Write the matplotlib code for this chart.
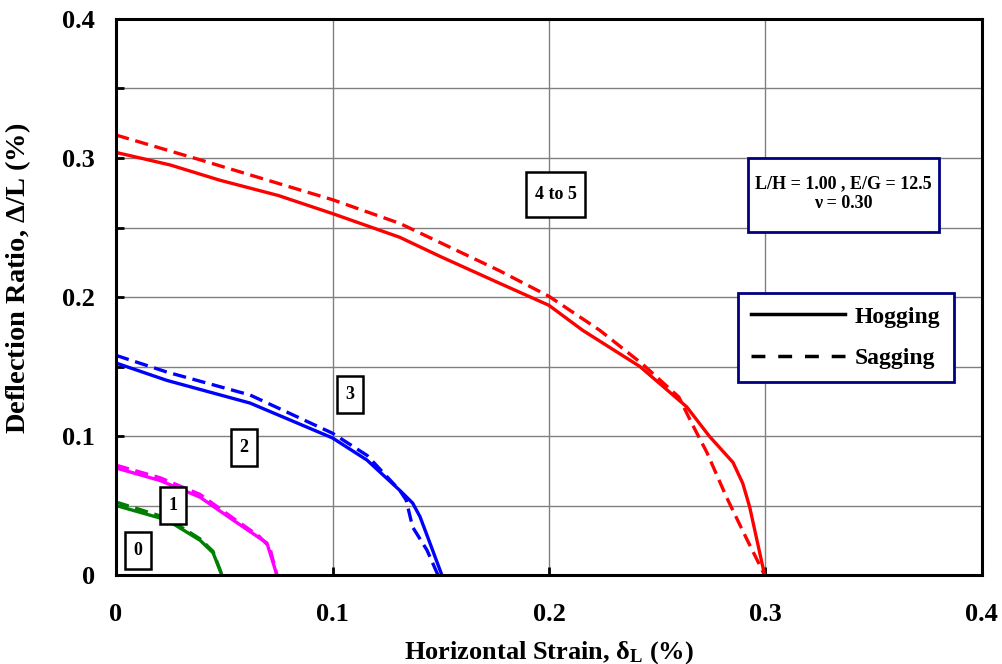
import numpy as np
import matplotlib
matplotlib.use("Agg")
import matplotlib.pyplot as plt
from matplotlib.lines import Line2D
from matplotlib.patches import Rectangle
from matplotlib.ticker import MultipleLocator, FuncFormatter

plt.rcParams['font.family'] = ['Liberation Serif', 'DejaVu Serif']
plt.rcParams['font.weight'] = 'bold'
plt.rcParams['mathtext.fontset'] = 'custom'
plt.rcParams['mathtext.rm'] = 'Liberation Serif:bold'
plt.rcParams['mathtext.it'] = 'Liberation Serif:bold:italic'
plt.rcParams['mathtext.bf'] = 'Liberation Serif:bold'

# curves (x = horizontal strain %, y = deflection ratio %)
red_hog_x = [0, 0.025, 0.048, 0.075, 0.1, 0.131, 0.15, 0.177, 0.2, 0.2156, 0.242, 0.2636, 0.274, 0.285, 0.2895, 0.2927, 0.2996]
red_hog_y = [0.304, 0.295, 0.284, 0.273, 0.260, 0.243, 0.229, 0.210, 0.194, 0.176, 0.150, 0.121, 0.100, 0.081, 0.066, 0.049, 0.0]
red_sag_x = [0, 0.039, 0.085, 0.1, 0.131, 0.177, 0.2, 0.2235, 0.243, 0.26, 0.266, 0.273, 0.282, 0.291, 0.2996]
red_sag_y = [0.3165, 0.2986, 0.277, 0.270, 0.253, 0.219, 0.2005, 0.176, 0.152, 0.128, 0.109, 0.088, 0.056, 0.027, 0.0]

blue_hog_x = [0, 0.0235, 0.0619, 0.1, 0.1159, 0.131, 0.137, 0.1404, 0.145, 0.1505]
blue_hog_y = [0.1525, 0.140, 0.1237, 0.0986, 0.0827, 0.061, 0.0518, 0.042, 0.023, 0.0]
blue_sag_x = [0, 0.0235, 0.0619, 0.1, 0.116, 0.131, 0.134, 0.137, 0.1436, 0.1487]
blue_sag_y = [0.158, 0.146, 0.1295, 0.102, 0.086, 0.061, 0.054, 0.0345, 0.018, 0.0]

mag_hog_x = [0, 0.0203, 0.0388, 0.054, 0.0697, 0.0743]
mag_hog_y = [0.077, 0.068, 0.056, 0.0396, 0.023, 0.0]
mag_sag_x = [0, 0.0203, 0.0388, 0.054, 0.066, 0.071, 0.0743]
mag_sag_y = [0.079, 0.070, 0.058, 0.041, 0.028, 0.020, 0.0]

grn_hog_x = [0, 0.0235, 0.0388, 0.0448, 0.0489]
grn_hog_y = [0.050, 0.0396, 0.025, 0.016, 0.0]
grn_sag_x = [0, 0.0235, 0.0388, 0.0448, 0.0489]
grn_sag_y = [0.0525, 0.041, 0.026, 0.017, 0.0]

box_labels = ["0", "1", "2", "3", "4 to 5"]
box_x = [0.0102, 0.0263, 0.059, 0.108, 0.203]
box_y = [0.0173, 0.050, 0.0914, 0.130, 0.2735]

fig = plt.figure(figsize=(10.03, 6.64), dpi=100)
ax = fig.add_axes([0.1157, 0.134, 0.8633, 0.8374])

lw = 2.4
dash = (0, (4, 2))
ax.plot(grn_hog_x, grn_hog_y, color='#008000', lw=lw)
ax.plot(grn_sag_x, grn_sag_y, color='#008000', lw=lw, linestyle=dash)
ax.plot(mag_hog_x, mag_hog_y, color='#ff00ff', lw=lw)
ax.plot(mag_sag_x, mag_sag_y, color='#ff00ff', lw=lw, linestyle=dash)
ax.plot(blue_hog_x, blue_hog_y, color='#0000ff', lw=lw)
ax.plot(blue_sag_x, blue_sag_y, color='#0000ff', lw=lw, linestyle=dash)
ax.plot(red_hog_x, red_hog_y, color='#ff0000', lw=lw)
ax.plot(red_sag_x, red_sag_y, color='#ff0000', lw=lw, linestyle=dash)

ax.set_xlim(0, 0.4)
ax.set_ylim(0, 0.4)
ax.xaxis.set_major_locator(MultipleLocator(0.1))
ax.yaxis.set_major_locator(MultipleLocator(0.05))

def fmt(v, pos):
    if abs(v) < 1e-9:
        return "0"
    if abs(round(v * 10) - v * 10) > 1e-6:
        return ""
    return "%.1f" % v

ax.xaxis.set_major_formatter(FuncFormatter(fmt))
ax.yaxis.set_major_formatter(FuncFormatter(fmt))
ax.tick_params(axis='x', direction='in', length=6, width=2, pad=20, labelsize=19)
ax.tick_params(axis='y', direction='in', length=6, width=2, pad=15, labelsize=19)
ax.grid(True, color='#808080', lw=1)
ax.set_axisbelow(True)
for s in ax.spines.values():
    s.set_linewidth(2.2)
    s.set_color('black')

ax.set_xlabel("Horizontal Strain, \u03b4$_{\\mathrm{L}}$ (%)", fontsize=19, fontweight='bold')
ax.set_ylabel("Deflection Ratio, $\\Delta$/L (%)", fontsize=20.5, fontweight='bold')
ax.xaxis.set_label_coords(0.5, -0.115)
ax.yaxis.set_label_coords(-0.096, 0.534)

# pixel -> data scale for the small label boxes
px_x = 0.4 / 866.0
px_y = 0.4 / 556.0
for t, x, y in zip(box_labels, box_x, box_y):
    w = (59 if len(t) > 1 else 26) * px_x
    h = (45 if len(t) > 1 else 37) * px_y
    ax.add_patch(Rectangle((x - w / 2, y - h / 2), w, h, fc='white', ec='black', lw=1.8, zorder=4))
    ax.text(x, y, t, fontsize=13, fontweight='bold', ha='center', va='center', zorder=5)

iw, ih = 191 * px_x, 74 * px_y
ax.add_patch(Rectangle((0.3359 - iw / 2, 0.2734 - ih / 2), iw, ih, fc='white', ec='#000080', lw=2, zorder=4))
ax.text(0.3359, 0.2745, "L/H = 1.00 , E/G = 12.5\n\u03bd = 0.30", fontsize=13, fontweight='bold',
        ha='center', va='center', linespacing=1.2, zorder=5)

handles = [Line2D([], [], color='black', lw=2.5),
           Line2D([], [], color='black', lw=2.5, linestyle=(0, (4, 3.7)))]
leg = ax.legend(handles, ["Hogging", "Sagging"], loc='upper left', bbox_to_anchor=(0.718, 0.507),
                fontsize=17, frameon=True, fancybox=False, handlelength=4.0, borderpad=0.55,
                labelspacing=0.85, handletextpad=0.42, borderaxespad=0)
leg.get_frame().set_edgecolor('#000080')
leg.get_frame().set_linewidth(2)
leg.get_frame().set_alpha(1)

fig.savefig("out.png", dpi=100)
